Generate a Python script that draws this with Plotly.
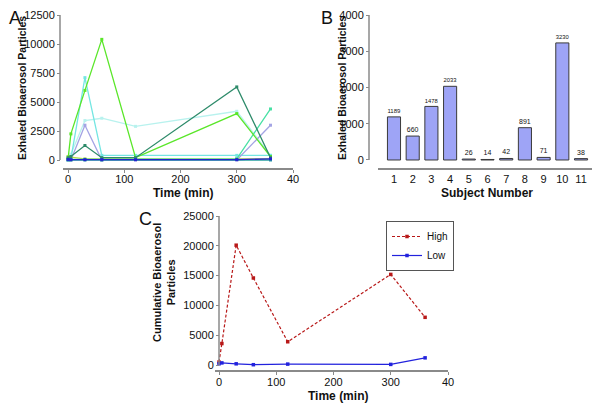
import plotly.graph_objects as go

# panel A - exhaled particles per subject over time
times = [0, 5, 30, 60, 120, 300, 360]
subj_lime = [100, 2250, 6000, 10400, 200, 4000, 300]
subj_pale = [300, 500, 3400, 3600, 2900, 4200, 400]
subj_cyan = [0, 100, 7100, 400, 400, 400, 400]
subj_lavender = [0, 0, 3000, 0, 0, 0, 3000]
subj_darkteal = [200, 300, 1250, 200, 200, 6300, 200]
subj_aqua = [50, 50, 50, 50, 100, 100, 4400]
subj_blue = [50, 30, 30, 30, 30, 30, 100]
subj_yellowgreen = [300, 250, 100, 100, 150, 100, 100]
subj_teal = [0, 0, 0, 0, 50, 50, 0]

# panel B - totals per subject
subjects = [1, 2, 3, 4, 5, 6, 7, 8, 9, 10, 11]
totals = [1189, 660, 1478, 2033, 26, 14, 42, 891, 71, 3230, 38]

# panel C - cumulative particles, high vs low emitters
high = [500, 3600, 20100, 14600, 3900, 15200, 8000]
low = [200, 350, 200, 50, 150, 100, 1200]

AX = "#8a8a8a"
FONT = "Liberation Sans, Arial, sans-serif"

# page body has an 8px default margin, so the figure is shrunk and shifted
W, H, OFF = 592, 397, 8

fig = go.Figure()

seriesA = [
    (subj_pale, "#b8f2ee"),
    (subj_cyan, "#74e6e2"),
    (subj_lavender, "#a4a4e4"),
    (subj_yellowgreen, "#b8d84a"),
    (subj_aqua, "#48e0a4"),
    (subj_lime, "#5ae629"),
    (subj_darkteal, "#2e8b6a"),
    (subj_teal, "#2aa0a0"),
    (subj_blue, "#2424cc"),
]
for vals, col in seriesA:
    fig.add_trace(go.Scatter(
        x=times, y=vals, mode="lines+markers",
        line=dict(color=col, width=1.3),
        marker=dict(symbol="square", size=3, color=col),
        xaxis="x", yaxis="y", showlegend=False))

fig.add_trace(go.Bar(
    x=subjects, y=totals, width=0.7,
    marker=dict(color="#9ea4f6", line=dict(color="#3a3a3a", width=1)),
    text=[str(v) for v in totals], textposition="outside",
    textfont=dict(size=7, color="#111", family=FONT),
    cliponaxis=False,
    xaxis="x2", yaxis="y2", showlegend=False))

fig.add_trace(go.Scatter(
    x=times, y=high, mode="lines+markers", name="High",
    line=dict(color="#b81818", width=1.2, dash="3px,2px"),
    marker=dict(symbol="square", size=3.5, color="#b81818"),
    xaxis="x3", yaxis="y3"))
fig.add_trace(go.Scatter(
    x=times, y=low, mode="lines+markers", name="Low",
    line=dict(color="#2222dd", width=1.2),
    marker=dict(symbol="square", size=3.5, color="#2222dd"),
    xaxis="x3", yaxis="y3"))

tickfont = dict(family=FONT, size=11, color="#111")
axis_common = dict(showgrid=False, zeroline=False, ticklen=3, ticklabeloverflow="allow",
                   tickcolor=AX, tickwidth=1.2, tickfont=tickfont, tickformat="d")

def px(x):
    return (x - OFF) / W

def py(y):
    return 1 - (y - OFF) / H

fig.update_layout(
    width=W, height=H,
    margin=dict(l=0, r=0, t=0, b=0, autoexpand=False),
    paper_bgcolor="white", plot_bgcolor="white",
    font=dict(family=FONT, color="#111"),
    xaxis=dict(domain=[px(63), px(293)], range=[-9, 400], anchor="y", ticks="outside",
               tickvals=[0, 100, 200, 300, 400], ticktext=["0", "100", "200", "300", "40"],
               ticklabelstandoff=-3,
               showline=True, linecolor=AX, linewidth=1.5, **axis_common),
    yaxis=dict(domain=[py(168), py(15)], range=[-690, 12500], anchor="free",
               position=px(60), tickvals=[0, 2500, 5000, 7500, 10000, 12500],
               ticks="outside", showline=False, **axis_common),
    xaxis2=dict(domain=[px(378), px(593)], range=[0.145, 11.64], anchor="y2", ticks="",
                tickvals=subjects, showline=True, linecolor=AX, linewidth=1.5,
                **axis_common),
    yaxis2=dict(domain=[py(168), py(15)], range=[-221, 4000], anchor="free",
                position=px(369), tickvals=[0, 1000, 2000, 3000, 4000],
                ticks="outside", showline=False, **axis_common),
    xaxis3=dict(domain=[px(215), px(448)], range=[-7, 400], anchor="y3", ticks="outside",
                tickvals=[0, 100, 200, 300, 400], ticktext=["0", "100", "200", "300", "40"],
                ticklabelstandoff=-2,
                showline=True, linecolor=AX, linewidth=1.5, **axis_common),
    yaxis3=dict(domain=[py(370), py(216)], range=[-839, 25000], anchor="free",
                position=px(219), tickvals=[0, 5000, 10000, 15000, 20000, 25000],
                ticks="outside", showline=False, **axis_common),
    legend=dict(x=px(386), y=py(221), xanchor="left", yanchor="top",
                bgcolor="white", bordercolor="#555", borderwidth=1,
                font=dict(family=FONT, size=10, color="#111"),
                tracegroupgap=0, itemwidth=30),
    barmode="overlay",
)

# y axis lines spanning only the data range (offset axes)
for xpos, yref, ytop in [(60, "y", 12500), (369, "y2", 4000), (219, "y3", 25000)]:
    fig.add_shape(type="line", xref="paper", yref=yref, x0=px(xpos), x1=px(xpos),
                  y0=0, y1=ytop, line=dict(color=AX, width=1.5))

titles = [
    ("A", 15, 18, 18, False, 0),
    ("B", 327, 18, 18, False, 0),
    ("C", 145, 219, 18, False, 0),
    ("Time (min)", 183, 193, 12, True, 0),
    ("Subject Number", 487, 193, 12, True, 0),
    ("Time (min)", 338, 396, 12, True, 0),
    ("Exhaled Bioaerosol Particles", 22, 88, 10.5, True, -90),
    ("Exhaled Bioaerosol Particles", 342, 88, 10.5, True, -90),
    ("Cumulative Bioaerosol<br>Particles", 164, 282, 11, True, -90),
]
for txt, x, y, size, bold, ang in titles:
    fig.add_annotation(
        text=f"<b>{txt}</b>" if bold else txt,
        x=px(x), y=py(y), xref="paper", yref="paper",
        showarrow=False, textangle=ang, xanchor="center", yanchor="middle",
        font=dict(family=FONT, size=size, color="#111"))

fig.write_html("out.html")
